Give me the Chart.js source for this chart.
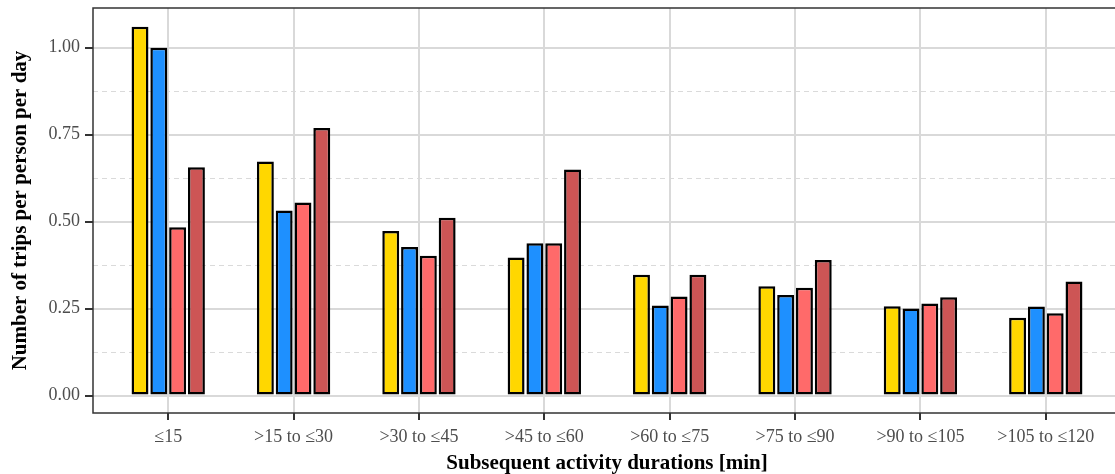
<!DOCTYPE html>
<html>
<head>
<meta charset="utf-8">
<title>Trips per person per day by activity duration</title>
<script src="https://cdn.jsdelivr.net/npm/chart.js@4.4.1/dist/chart.umd.min.js"></script>
<style>
  html, body { margin: 0; padding: 0; background: #fff; overflow: hidden; }
  canvas { display: block; }
</style>
</head>
<body>
<canvas id="tripsChart" width="1124" height="474"></canvas>
<script>
// duration bins on the x axis
const durationBins = ['≤15', '>15 to ≤30', '>30 to ≤45', '>45 to ≤60', '>60 to ≤75', '>75 to ≤90', '>90 to ≤105', '>105 to ≤120'];

// trips per person per day, one array per group
const groupGold = [1.060, 0.673, 0.473, 0.397, 0.347, 0.314, 0.257, 0.224];
const groupBlue = [1.000, 0.532, 0.427, 0.438, 0.259, 0.289, 0.250, 0.256];
const groupSalmon = [0.484, 0.555, 0.402, 0.438, 0.285, 0.310, 0.265, 0.237];
const groupRed = [0.656, 0.769, 0.511, 0.650, 0.347, 0.390, 0.283, 0.328];

// y axis breaks
const yBreaks = [0, 0.25, 0.5, 0.75, 1.0];
const yMinorBreaks = [0.125, 0.375, 0.625, 0.875];

const FONT = "'Liberation Serif', 'Times New Roman', serif";

/**
 * Turns a value array into {x, y} points on the numeric category axis
 */
function toPoints(values) {
    return values.map((v, i) => ({ x: i, y: v }));
}

// dashed minor grid under everything, dark panel frame on top
const panelFrame = {
    id: 'panelFrame',
    beforeDraw(chart) {
        const { ctx, chartArea, scales } = chart;
        ctx.save();
        ctx.strokeStyle = '#dadada';
        ctx.lineWidth = 1;
        ctx.setLineDash([5, 4]);
        yMinorBreaks.forEach(v => {
            const y = Math.round(scales.y.getPixelForValue(v)) + 0.5;
            ctx.beginPath();
            ctx.moveTo(chartArea.left, y);
            ctx.lineTo(chartArea.right, y);
            ctx.stroke();
        });
        ctx.restore();
    },
    afterDraw(chart) {
        const { ctx, chartArea } = chart;
        ctx.save();
        ctx.strokeStyle = '#333333';
        ctx.lineWidth = 1.5;
        ctx.strokeRect(chartArea.left, chartArea.top,
            chartArea.right - chartArea.left, chartArea.bottom - chartArea.top);
        ctx.restore();
    }
};

const seriesDefs = [
    { label: 'Group 1', data: groupGold, color: '#FFD700' },
    { label: 'Group 2', data: groupBlue, color: '#1E90FF' },
    { label: 'Group 3', data: groupSalmon, color: '#FF6A6A' },
    { label: 'Group 4', data: groupRed, color: '#CD5555' }
];

const ctx = document.getElementById('tripsChart').getContext('2d');

new Chart(ctx, {
    type: 'bar',
    data: {
        datasets: seriesDefs.map(s => ({
            label: s.label,
            data: toPoints(s.data),
            backgroundColor: s.color,
            borderColor: '#000000',
            borderWidth: 2.5,
            borderSkipped: false,
            categoryPercentage: 0.6,
            barPercentage: 0.9
        }))
    },
    options: {
        responsive: false,
        animation: false,
        events: [],
        layout: {
            padding: { top: 8, right: 3, left: 0, bottom: 0 }
        },
        scales: {
            x: {
                type: 'linear',
                min: -0.6,
                max: durationBins.length - 0.4,
                offset: false,
                afterBuildTicks: scale => {
                    scale.ticks = durationBins.map((_, i) => ({ value: i }));
                },
                afterFit: scale => {
                    scale.height = 61;
                    scale.paddingLeft = 0;
                    scale.paddingRight = 0;
                },
                ticks: {
                    autoSkip: false,
                    maxRotation: 0,
                    padding: 6,
                    color: '#4d4d4d',
                    font: { family: FONT, size: 18 },
                    callback: value => durationBins[value]
                },
                grid: {
                    offset: false,
                    color: '#d9d9d9',
                    lineWidth: 2,
                    tickColor: '#333333',
                    tickWidth: 2,
                    tickLength: 7
                },
                border: { display: false },
                title: {
                    display: true,
                    text: 'Subsequent activity durations [min]',
                    color: '#000000',
                    padding: 0,
                    font: { family: FONT, size: 21, weight: 'bold', lineHeight: 1.0 }
                }
            },
            y: {
                min: -0.05,
                max: 1.114,
                afterBuildTicks: scale => {
                    scale.ticks = yBreaks.map(v => ({ value: v }));
                },
                afterFit: scale => {
                    scale.width = 93;
                    scale.paddingTop = 0;
                    scale.paddingBottom = 0;
                },
                ticks: {
                    padding: 5,
                    color: '#4d4d4d',
                    font: { family: FONT, size: 18 },
                    callback: value => Number(value).toFixed(2)
                },
                grid: {
                    color: '#d9d9d9',
                    lineWidth: 2,
                    tickColor: '#333333',
                    tickWidth: 2,
                    tickLength: 8
                },
                border: { display: false },
                title: {
                    display: true,
                    text: 'Number of trips per person per day',
                    color: '#000000',
                    padding: { top: 8, bottom: 0 },
                    font: { family: FONT, size: 21, weight: 'bold', lineHeight: 1.2 }
                }
            }
        },
        plugins: {
            legend: { display: false },
            tooltip: { enabled: false }
        }
    },
    plugins: [panelFrame]
});
</script>
</body>
</html>
